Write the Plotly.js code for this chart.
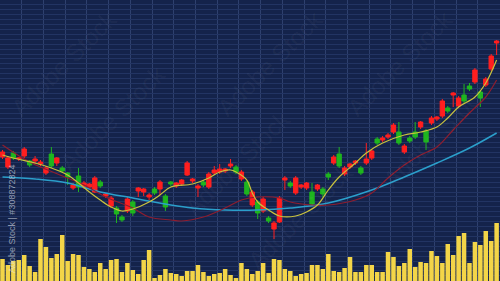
<!DOCTYPE html>
<html>
<head>
<meta charset="utf-8">
<script src="https://cdn.plot.ly/plotly-3.0.1.min.js"></script>
<style>html,body{margin:0;padding:0;background:#14234b;}#chart{width:500px;height:281px;}</style>
</head>
<body>
<div id="chart"></div>
<script>
// Candle data (arbitrary price units), one per session
const opens  = [124,114,128,122,125,120,120,117,108,127,118,113,108,93,105,94,94,89,99,85,75,73,64,70,79,90,89,84,92,92,85,99,95,97,106,100,93,99,94,108,109,110,115,114,102,99,76,79,70,63,52,59,101,98,88,94,93,89,92,92,107,118,127,107,114,118,113,118,123,142,141,144,149,149,129,143,149,154,150,158,162,165,173,186,175,186,195,199,189,196,212,238];
const highs  = [131,125,130,124,134,121,125,121,115,134,124,115,109,98,113,100,98,105,101,88,85,75,66,84,81,94,93,88,94,101,87,100,99,102,120,103,97,101,109,115,117,113,122,116,111,101,91,81,84,65,60,85,105,100,105,97,99,98,97,94,109,126,134,115,118,121,115,138,132,144,145,148,158,159,137,145,159,160,152,165,165,182,175,189,185,197,198,213,191,204,227,241];
const lows   = [122,112,121,120,123,114,117,115,106,113,115,108,96,91,89,92,92,88,93,83,73,58,59,68,65,84,85,81,86,86,70,95,93,95,105,98,84,94,92,106,107,108,113,107,100,85,74,62,68,58,42,58,91,93,86,92,91,75,90,84,101,116,113,105,112,116,106,116,121,136,139,142,147,136,127,138,142,152,131,156,160,163,168,174,173,178,190,197,174,194,210,226];
const closes = [129,123,123,123,132,116,122,119,113,115,123,110,104,96,94,98,97,103,95,87,83,67,61,82,68,93,92,86,88,99,74,97,98,101,118,102,95,96,107,111,112,112,117,109,109,87,89,68,82,60,58,83,103,95,103,96,98,77,96,87,104,124,115,113,117,120,108,122,130,138,143,146,156,138,135,140,144,159,139,163,164,180,170,188,183,180,192,211,183,202,225,240];
const volumes = [22,16,20,21,26,15,9,42,34,23,27,46,20,27,26,14,12,9,18,12,21,22,9,18,11,7,21,31,3,6,12,8,7,5,10,10,16,9,5,7,8,12,6,3,18,12,7,10,18,8,22,21,12,10,5,7,8,16,16,12,27,10,9,13,24,9,9,16,16,9,9,29,24,15,18,32,14,19,18,30,25,18,37,26,45,48,18,39,36,50,40,58];

// Moving averages (session index, value)
const fastIdx = [0,2,6,9,12,14,16,18,20,22,24,27,29,31,35,38,40,42,43,45,46,47,49,51,54,56,58,60,62,65,67,70,74,77,80,82,84,87,89,91];
const fastVal = [126,123,118,113,106,98,89,81,74,70,72,79,86,94,97,103,109,111,109,101,88,79,71,65,65,69,76,91,104,118,128,138,146,149,154,163,174,184,198,221];
const midIdx = [0,5,15,19,24,27,31,33,37,41,44,47,51,53,57,60,65,68,71,74,77,80,83,86,89,91];
const midVal = [136,119,96,84,73,64,61,60,64,73,81,84,83,79,76,76,81,88,103,116,126,134,151,168,184,201];
const slowIdx = [0,6,12,18,24,31,35,41,47,53,60,68,74,80,86,91];
const slowVal = [104,102,98,89,83,76,73,71,71,73,78,91,104,118,133,148];

// Watermark labels
const watermarkText = 'Adobe Stock';
const watermarkId = 'Adobe Stock | #308872824';

const sessions = opens.map((_, i) => i);

const traces = [
  {type:'bar', x:sessions, y:volumes, yaxis:'y', width:0.83,
   marker:{color:'#f3d548', line:{width:0}}, hoverinfo:'skip'},
  {type:'scatter', mode:'lines', x:slowIdx, y:slowVal, yaxis:'y2',
   line:{color:'#2b9fcb', width:1.5, shape:'spline'}, hoverinfo:'skip'},
  {type:'scatter', mode:'lines', x:midIdx, y:midVal, yaxis:'y2',
   line:{color:'#8e1d2f', width:1.2, shape:'spline'}, hoverinfo:'skip'},
  {type:'candlestick', x:sessions, open:opens, high:highs, low:lows, close:closes, yaxis:'y2',
   increasing:{line:{color:'#ff1f1f', width:1}, fillcolor:'#ff1f1f'},
   decreasing:{line:{color:'#1fb51f', width:1}, fillcolor:'#1fb51f'},
   whiskerwidth:0, hoverinfo:'skip'},
  {type:'scatter', mode:'lines', x:fastIdx, y:fastVal, yaxis:'y2',
   line:{color:'#c9c23c', width:1.2, shape:'spline'}, hoverinfo:'skip'}
];

const wmFont = {family:'Liberation Sans, Arial, sans-serif', size:24, color:'rgba(255,255,255,0.055)'};
const wmCenters = [[64,64],[270,64],[400,64],[112,118],[237,163],[435,135],[300,216]];
const annotations = wmCenters.map(c => ({
  text:watermarkText, xref:'paper', yref:'paper', x:c[0]/500, y:1 - c[1]/281,
  xanchor:'center', yanchor:'middle', textangle:-45, showarrow:false, font:wmFont
}));
annotations.push({text:watermarkId, xref:'paper', yref:'paper', x:12/500, y:1 - 219/281,
  xanchor:'center', yanchor:'middle', textangle:-90, showarrow:false,
  font:{family:'Liberation Sans, Arial, sans-serif', size:9, color:'rgba(225,230,240,0.6)'}});

const layout = {
  width:500, height:281,
  margin:{l:0, r:0, t:0, b:0, pad:0},
  paper_bgcolor:'#14234b', plot_bgcolor:'#14234b',
  showlegend:false,
  boxgap:0.2, boxgroupgap:0,
  xaxis:{range:[-0.46, 91.62], showticklabels:false, ticks:'', zeroline:false,
         showgrid:true, gridcolor:'#2e406e', gridwidth:1, tick0:-0.46, dtick:4,
         rangeslider:{visible:false}, fixedrange:true},
  yaxis:{range:[0, 281], showticklabels:false, ticks:'', zeroline:false,
         showgrid:true, gridcolor:'#223463', gridwidth:1, tick0:0.2, dtick:4.93, fixedrange:true},
  yaxis2:{range:[0, 281], overlaying:'y', showticklabels:false, ticks:'', zeroline:false,
          showgrid:false, fixedrange:true},
  annotations:annotations
};

Plotly.newPlot('chart', traces, layout, {staticPlot:true, displayModeBar:false});
</script>
</body>
</html>
